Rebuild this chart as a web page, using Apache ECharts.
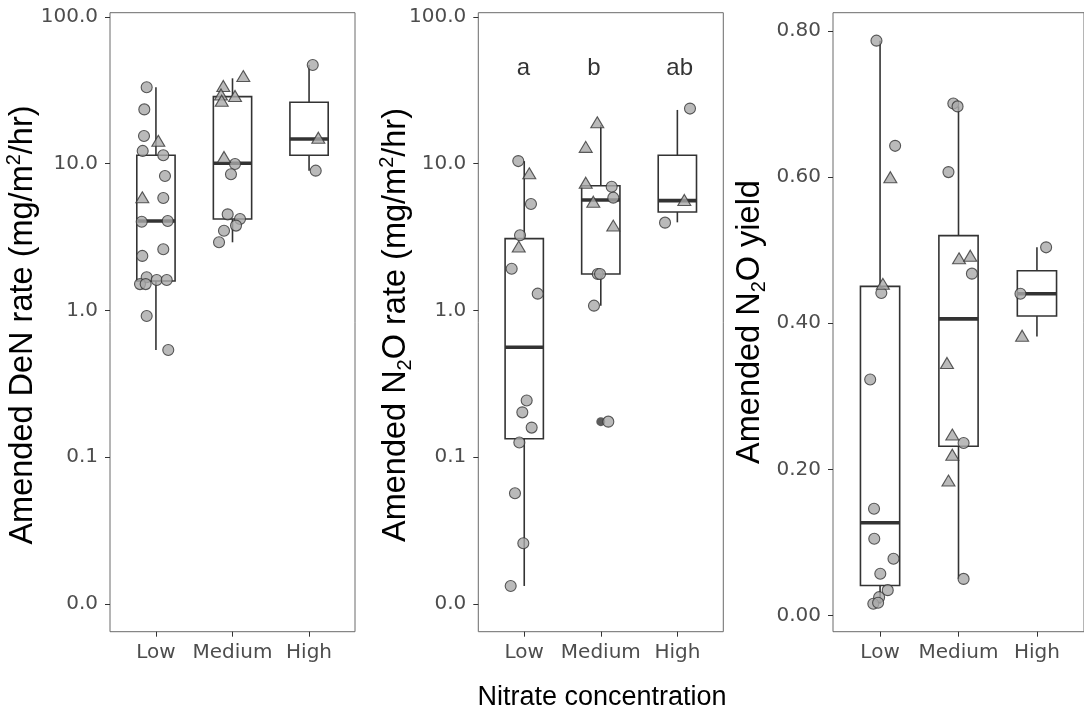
<!DOCTYPE html>
<html><head><meta charset="utf-8">
<script src="https://cdn.jsdelivr.net/npm/echarts@6/dist/echarts.min.js"></script>
<style>html,body{margin:0;padding:0;background:#fff}#c{width:1084px;height:717px}</style>
</head><body><div id="c"></div>
<script>
// ---------- data ----------
const categories = ['Low', 'Medium', 'High'];
const logTickValues = [0.01, 0.1, 1, 10, 100];
const yieldTickValues = [0, 0.2, 0.4, 0.6, 0.8];

// Panel 1: Amended DeN rate  (box stats per category: lower whisker, Q1, median, Q3, upper whisker)
const denWhiskerLow = [0.537, 2.91, 8.95];
const denQ1 = [1.585, 4.19, 11.4];
const denMedian = [4.06, 10.05, 14.7];
const denQ3 = [11.4, 28.6, 26.2];
const denWhiskerHigh = [33.1, 38.1, 47.0];
const denCircleX = [0.879,0.848,0.844,0.827,1.096,1.118,1.096,0.814,1.154,1.096,0.822,0.879,1.010,1.141,0.792,0.866,0.879,1.161,
                    2.033,1.980,1.937,2.098,2.046,1.889,1.824, 3.048,3.087];
const denCircleY = [33.1,23.4,15.4,12.2,11.4,8.24,5.83,4.02,4.06,2.61,2.35,1.68,1.61,1.61,1.51,1.51,0.916,0.537,
                    9.94,8.46,4.51,4.19,3.78,3.49,2.91, 47.0,8.95];
const denTriX = [1.031,0.822, 2.141,1.880,1.850,1.859,2.033,1.889, 3.121];
const denTriY = [14.3,5.89, 39.5,33.8,29.6,26.8,28.9,11.1, 15.0];

// Panel 2: Amended N2O rate
const n2oWhiskerLow = [0.01326, 1.077, 3.98];
const n2oQ1 = [0.1336, 1.77, 4.68];
const n2oMedian = [0.561, 5.65, 5.59];
const n2oQ3 = [3.08, 7.07, 11.4];
const n2oWhiskerHigh = [10.4, 18.3, 23.2];
const n2oCircleX = [0.922,1.088,0.945,0.836,1.176,1.032,0.975,1.097,0.936,0.879,0.988,0.823,
                    2.142,2.163,1.960,1.990,1.911,2.098, 3.165,2.839];
const n2oCircleY = [10.4,5.31,3.25,1.92,1.30,0.243,0.202,0.159,0.126,0.0568,0.0259,0.01326,
                    6.96,5.86,1.77,1.77,1.077,0.1746, 23.7,3.96];
const n2oTriX = [1.066,0.928, 1.954,1.803,1.803,1.902,2.163, 3.091];
const n2oTriY = [8.59,2.72, 19.1,13.0,7.41,5.50,3.78, 5.65];
const n2oOutlierX = [2];
const n2oOutlierY = [0.1746];
const letters = ['a', 'b', 'ab'];
const letterX = [0.99, 1.91, 3.03];
const letterY = [44.8, 44.8, 44.8];

// Panel 3: Amended N2O yield
const yWhiskerLow = [0.016, 0.050, 0.382];
const yQ1 = [0.041, 0.2316, 0.410];
const yMedian = [0.1268, 0.406, 0.4405];
const yQ3 = [0.4505, 0.520, 0.472];
const yWhiskerHigh = [0.787, 0.697, 0.504];
const yCircleX = [0.954,1.192,1.016,0.874,0.923,0.926,1.171,1.003,1.098,0.988,0.914,0.975,
                  1.934,1.988,1.872,2.171,2.065,2.065, 3.117,2.790];
const yCircleY = [0.787,0.643,0.4415,0.323,0.146,0.105,0.0776,0.057,0.0346,0.025,0.016,0.0174,
                  0.701,0.697,0.607,0.468,0.236,0.050, 0.504,0.4405];
const yTriX = [1.131,1.036, 2.007,2.150,1.853,1.921,1.921,1.872, 2.811];
const yTriY = [0.600,0.454, 0.489,0.4925,0.3457,0.2476,0.220,0.1847, 0.383];

// ---------- helpers ----------
const FONT = 'Liberation Sans, Arial, Helvetica, sans-serif';
const TICKFONT = 'DejaVu Sans, Liberation Sans, sans-serif';
const lg = v => Math.log10(v);
const id = v => v;
const zip = (xs, ys, f) => xs.map((x, i) => [x, f(ys[i])]);

function boxData(wl, q1, md, q3, wh, f) {
  return categories.map((c, i) => [i + 1, f(wl[i]), f(q1[i]), f(md[i]), f(q3[i]), f(wh[i])]);
}
function boxRender(params, api) {
  const x = api.value(0), hw = 0.25;
  const cx = api.coord([x, api.value(3)])[0];
  const xl = api.coord([x - hw, api.value(3)])[0];
  const xr = api.coord([x + hw, api.value(3)])[0];
  const yWl = api.coord([x, api.value(1)])[1];
  const yQ1 = api.coord([x, api.value(2)])[1];
  const yMd = api.coord([x, api.value(3)])[1];
  const yQ3 = api.coord([x, api.value(4)])[1];
  const yWh = api.coord([x, api.value(5)])[1];
  const st = { stroke: '#333333', lineWidth: 1.6, fill: null };
  return { type: 'group', children: [
    { type: 'line', shape: { x1: cx, y1: yQ3, x2: cx, y2: yWh }, style: st },
    { type: 'line', shape: { x1: cx, y1: yQ1, x2: cx, y2: yWl }, style: st },
    { type: 'rect', shape: { x: xl, y: yQ3, width: xr - xl, height: yQ1 - yQ3 }, style: { stroke: '#333333', lineWidth: 1.6, fill: 'rgba(0,0,0,0)' } },
    { type: 'line', shape: { x1: xl, y1: yMd, x2: xr, y2: yMd }, style: { stroke: '#333333', lineWidth: 3.6 } }
  ]};
}

const gridTop = 12.7, gridH = 619;
const grids = [
  { left: 110, top: gridTop, width: 245, height: gridH },
  { left: 478.3, top: gridTop, width: 245, height: gridH },
  { left: 833, top: gridTop, width: 261.4, height: gridH }
].map(g => Object.assign(g, { show: true, borderColor: '#6a6a6a', borderWidth: 1, containLabel: false }));

const tickStyle = { show: true, inside: false, length: 5, lineStyle: { color: '#333333', width: 1 } };
const labelStyle = { color: '#4d4d4d', fontSize: 20, fontFamily: TICKFONT };

const xAxes = [0, 1, 2].map(i => ({
  type: 'value', gridIndex: i, min: 0.4, max: 3.6,
  axisLine: { show: false, onZero: false }, splitLine: { show: false },
  axisTick: Object.assign({ customValues: [1, 2, 3] }, tickStyle),
  axisLabel: Object.assign({ customValues: [1, 2, 3], margin: 11, formatter: v => categories[Math.round(v) - 1] || '' }, labelStyle)
}));

const yAxes = [0, 1].map(i => ({
  type: 'value', gridIndex: i, min: -2.189, max: 2.028,
  axisLine: { show: false, onZero: false }, splitLine: { show: false },
  axisTick: Object.assign({ customValues: logTickValues.map(lg) }, tickStyle),
  axisLabel: Object.assign({ customValues: logTickValues.map(lg), margin: 12, formatter: v => Math.pow(10, v).toFixed(1) }, labelStyle)
}));
yAxes.push({
  type: 'value', gridIndex: 2, min: -0.0223, max: 0.8253,
  axisLine: { show: false, onZero: false }, splitLine: { show: false },
  axisTick: Object.assign({ customValues: yieldTickValues }, tickStyle),
  axisLabel: Object.assign({ customValues: yieldTickValues, margin: 12, formatter: v => v.toFixed(2) }, labelStyle)
});

const ptStyle = { color: '#a9a9a9', borderColor: '#333333', borderWidth: 1.1 };
function panelSeries(i, box, cX, cY, tX, tY, f) {
  return [
    { type: 'custom', xAxisIndex: i, yAxisIndex: i, renderItem: boxRender, data: box, z: 2, silent: true,
      encode: { x: 0, y: [1, 2, 3, 4, 5] } },
    { type: 'scatter', xAxisIndex: i, yAxisIndex: i, symbol: 'circle', symbolSize: 11, data: zip(cX, cY, f), itemStyle: ptStyle, z: 3 },
    { type: 'scatter', xAxisIndex: i, yAxisIndex: i, symbol: 'triangle', symbolSize: [13, 11], data: zip(tX, tY, f), itemStyle: ptStyle, z: 3 }
  ];
}

const series = [].concat(
  panelSeries(0, boxData(denWhiskerLow, denQ1, denMedian, denQ3, denWhiskerHigh, lg), denCircleX, denCircleY, denTriX, denTriY, lg),
  panelSeries(1, boxData(n2oWhiskerLow, n2oQ1, n2oMedian, n2oQ3, n2oWhiskerHigh, lg), n2oCircleX, n2oCircleY, n2oTriX, n2oTriY, lg),
  panelSeries(2, boxData(yWhiskerLow, yQ1, yMedian, yQ3, yWhiskerHigh, id), yCircleX, yCircleY, yTriX, yTriY, id),
  [
    { type: 'scatter', xAxisIndex: 1, yAxisIndex: 1, symbol: 'circle', symbolSize: 9, data: zip(n2oOutlierX, n2oOutlierY, lg),
      itemStyle: { color: '#333333' }, z: 2.5 },
    { type: 'scatter', xAxisIndex: 1, yAxisIndex: 1, symbolSize: 0,
      data: letters.map((t, i) => ({ value: [letterX[i], lg(letterY[i])], name: t })),
      label: { show: true, position: 'inside', formatter: p => p.name, color: '#000', fontSize: 24, fontFamily: FONT } }
  ]
);

const titleRich = {
  a: { fontSize: 32.5, fontFamily: FONT, color: '#000', lineHeight: 38 },
  sup: { fontSize: 20, fontFamily: FONT, color: '#000', lineHeight: 20, verticalAlign: 'top' },
  sub: { fontSize: 20, fontFamily: FONT, color: '#000', lineHeight: 12, verticalAlign: 'bottom' }
};
function vTitle(x, y, text) {
  return { type: 'text', x: x, y: y, rotation: Math.PI / 2,
    style: { text: text, rich: titleRich, textAlign: 'center', textVerticalAlign: 'middle', align: 'center', verticalAlign: 'middle' } };
}

const option = {
  animation: false,
  backgroundColor: '#ffffff',
  grid: grids, xAxis: xAxes, yAxis: yAxes, series: series,
  graphic: [
    vTitle(23, 325, '{a|Amended DeN rate (mg/m}{sup|2}{a|/hr)}'),
    vTitle(396, 325, '{a|Amended N}{sub|2}{a|O rate (mg/m}{sup|2}{a|/hr)}'),
    vTitle(750, 322, '{a|Amended N}{sub|2}{a|O yield}'),
    { type: 'text', x: 602, y: 698, style: { text: 'Nitrate concentration', fontSize: 27, fontFamily: FONT, fill: '#000',
      textAlign: 'center', textVerticalAlign: 'middle', align: 'center', verticalAlign: 'middle' } }
  ]
};
const chart = echarts.init(document.getElementById('c'), null, { renderer: 'canvas' });
chart.setOption(option);
</script></body></html>
